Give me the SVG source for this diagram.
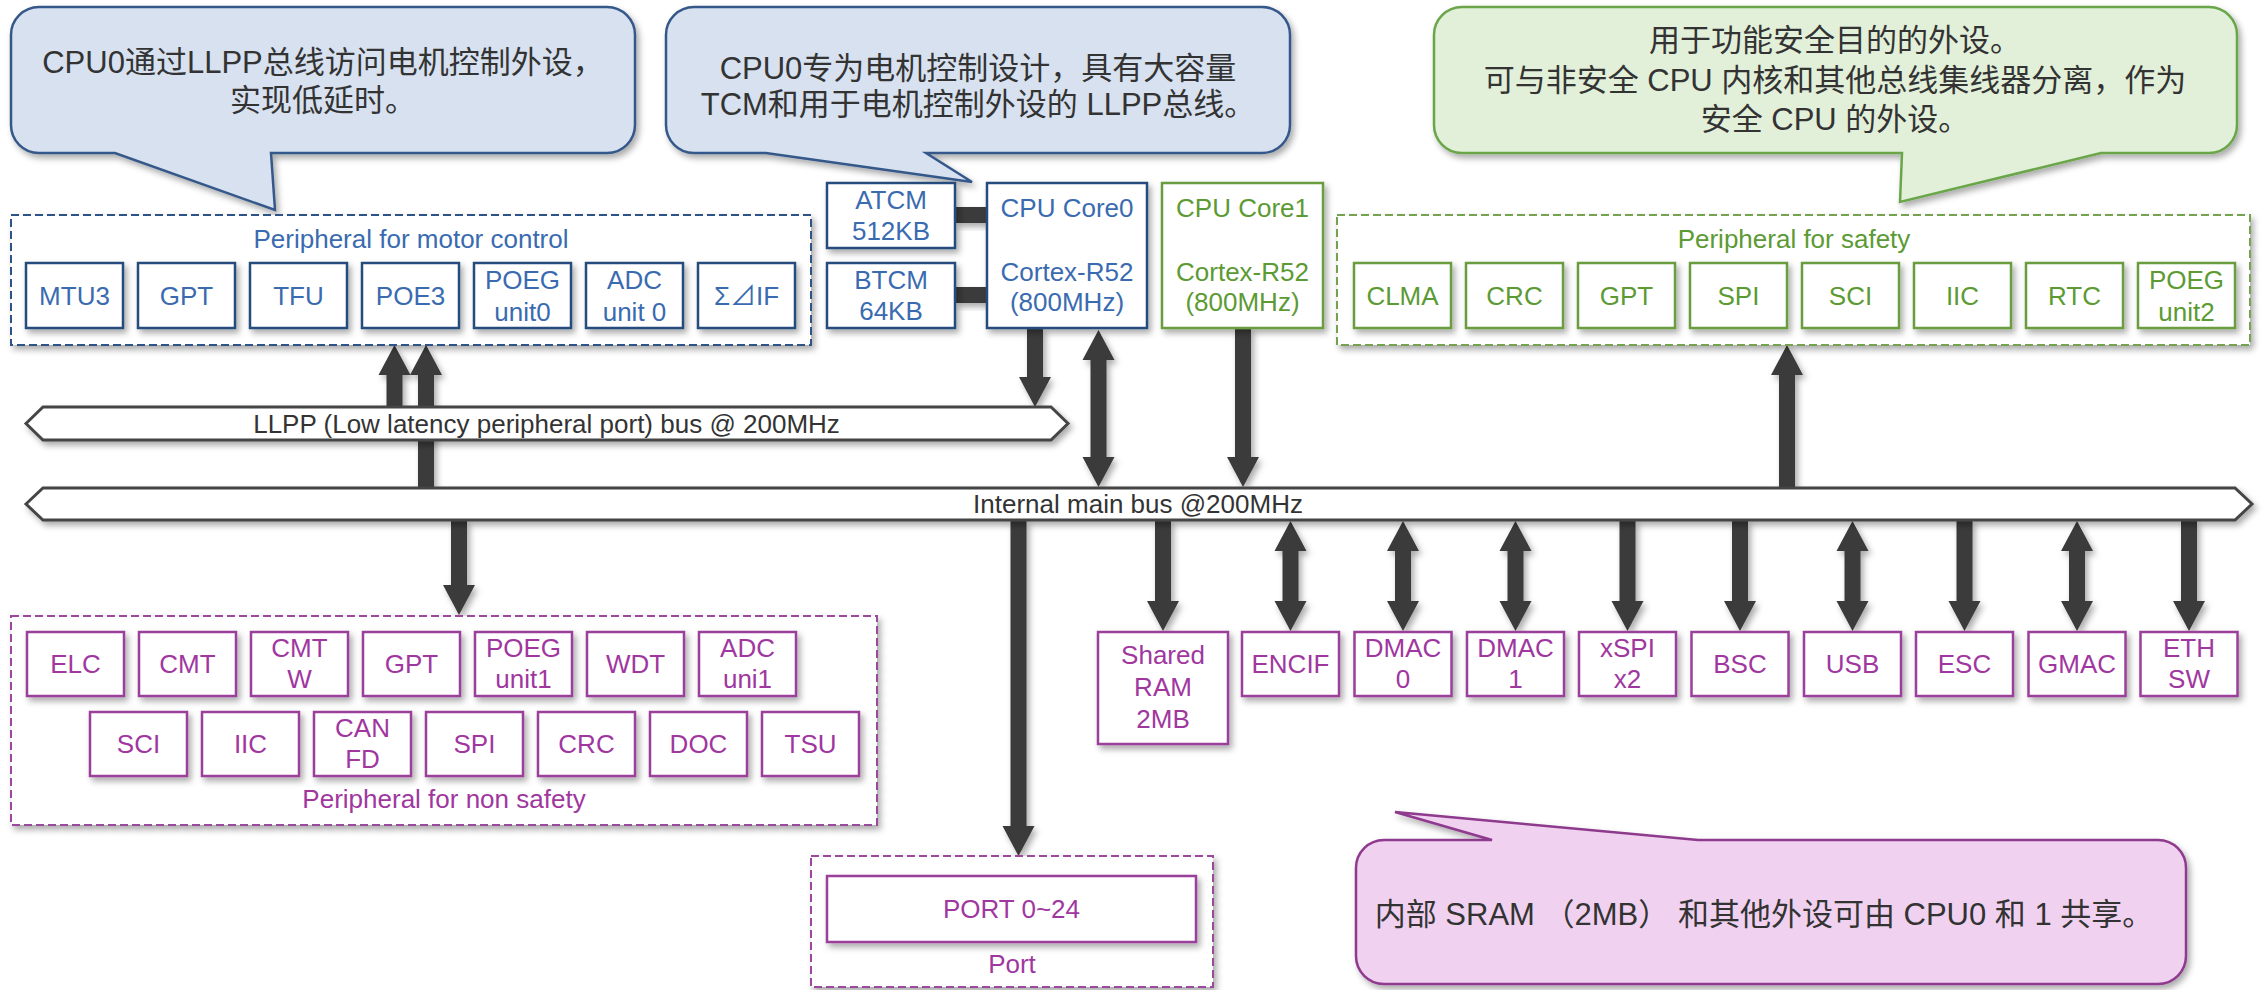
<svg xmlns="http://www.w3.org/2000/svg" width="2264" height="990" viewBox="0 0 2264 990">
  <defs>
    <filter id="shadow" x="-50%" y="-50%" width="200%" height="200%">
      <feDropShadow dx="3" dy="4" stdDeviation="3" flood-color="#000" flood-opacity="0.33"/>
    </filter>
    <!-- bus-to-peripheral arrows (main bus bottom 520 to box top 631) -->
    <path id="arrDown" d="M-8,0 H8 V81 H16 L0,111 L-16,81 H-8 Z"/>
    <path id="arrBoth" d="M0,0 L16,30 H8 V80 H16 L0,110 L-16,80 H-8 V30 H-16 Z"/>
    <style>
      text { font-family: "Liberation Sans", Arial, "Noto Sans CJK SC", sans-serif; text-anchor: middle; }
      .note { font-size: 31px; fill: #333333; }
      .lbl { font-size: 26px; }
      .tb { fill: #3a6bb0; }
      .tg { fill: #5c9a34; }
      .tp { fill: #a0379f; }
      .td { fill: #333333; }
      .sh { filter: url(#shadow); }
      .boxB { fill: #ffffff; stroke: #284b7d; stroke-width: 2.5; filter: url(#shadow); }
      .boxG { fill: #ffffff; stroke: #6a9c40; stroke-width: 2.5; filter: url(#shadow); }
      .boxP { fill: #ffffff; stroke: #9a3f9b; stroke-width: 2.5; filter: url(#shadow); }
      .grpB { fill: #ffffff; stroke: #2f5286; stroke-width: 2; stroke-dasharray: 8 4; filter: url(#shadow); }
      .grpG { fill: #ffffff; stroke: #74a250; stroke-width: 2; stroke-dasharray: 8 4; filter: url(#shadow); }
      .grpP { fill: #ffffff; stroke: #9a4a9c; stroke-width: 2; stroke-dasharray: 8 4; filter: url(#shadow); }
      .bus { fill: #ffffff; stroke: #454545; stroke-width: 3; filter: url(#shadow); }
      .arrow { fill: #3a3a3a; filter: url(#shadow); }
      .calB { fill: #d7e1ef; stroke: #36588a; stroke-width: 2.5; filter: url(#shadow); }
      .calG { fill: #e2efd9; stroke: #6aa64a; stroke-width: 2.5; filter: url(#shadow); }
      .calP { fill: #f0d2f0; stroke: #8e3a8e; stroke-width: 2.5; filter: url(#shadow); }
    </style>
  </defs>

  <rect width="2264" height="990" fill="#ffffff"/>

  <!-- connectors -->
  <g id="connectors">
    <!-- TCM links -->
    <rect class="arrow" x="955" y="207" width="32" height="16"/>
    <rect class="arrow" x="955" y="287" width="32" height="16"/>
    <!-- up into motor-control peripherals -->
    <path class="arrow" d="M394.5,345 L410.5,375 H402.5 V407 H386.5 V375 H378.5 Z"/>
    <path class="arrow" d="M426,345 L442,375 H434 V488 H418 V375 H410 Z"/>
    <!-- CPU Core0 to LLPP bus and main bus -->
    <path class="arrow" d="M1027,328 H1043 V377 H1051 L1035,407 L1019,377 H1027 Z"/>
    <path class="arrow" d="M1098.5,330 L1114.5,360 H1106.5 V457 H1114.5 L1098.5,487 L1082.5,457 H1090.5 V360 H1082.5 Z"/>
    <!-- CPU Core1 to main bus -->
    <path class="arrow" d="M1235,328 H1251 V457 H1259 L1243,487 L1227,457 H1235 Z"/>
    <!-- main bus up to safety peripherals -->
    <path class="arrow" d="M1787,345 L1803,375 H1795 V488 H1779 V375 H1771 Z"/>
    <!-- main bus down to non-safety peripherals -->
    <path class="arrow" d="M451,520 H467 V585 H475 L459,615 L443,585 H451 Z"/>
    <!-- main bus down to port -->
    <path class="arrow" d="M1010.5,520 H1026.5 V826 H1034.5 L1018.5,856 L1002.5,826 H1010.5 Z"/>
    <!-- main bus to peripherals on the right -->
    <use class="arrow" href="#arrDown" x="1163" y="520"/>
    <use class="arrow" href="#arrBoth" x="1290.5" y="521"/>
    <use class="arrow" href="#arrBoth" x="1403" y="521"/>
    <use class="arrow" href="#arrBoth" x="1515.5" y="521"/>
    <use class="arrow" href="#arrDown" x="1627.5" y="520"/>
    <use class="arrow" href="#arrDown" x="1740" y="520"/>
    <use class="arrow" href="#arrBoth" x="1852.5" y="521"/>
    <use class="arrow" href="#arrDown" x="1964.5" y="520"/>
    <use class="arrow" href="#arrBoth" x="2077" y="521"/>
    <use class="arrow" href="#arrDown" x="2189" y="520"/>
  </g>

  <!-- buses -->
  <g id="llpp-bus">
    <polygon class="bus" points="26,423.5 43,407 1051,407 1068,423.5 1051,440 43,440"/>
    <text class="lbl td" x="546.5" y="433">LLPP (Low latency peripheral port) bus @ 200MHz</text>
  </g>
  <g id="main-bus">
    <polygon class="bus" points="26,504 43,488 2235,488 2252,504 2235,520 43,520"/>
    <text class="lbl td" x="1138" y="513">Internal main bus @200MHz</text>
  </g>

  <!-- callouts -->
  <g id="note-llpp">
    <path class="calB" d="M39,7 H607 A28,28 0 0 1 635,35 V125 A28,28 0 0 1 607,153 H271 L275,210 L115,153 H39 A28,28 0 0 1 11,125 V35 A28,28 0 0 1 39,7 Z"/>
    <text class="note" x="323" y="73">CPU0通过LLPP总线访问电机控制外设，</text>
    <text class="note" x="323" y="111">实现低延时。</text>
  </g>
  <g id="note-cpu0">
    <path class="calB" d="M694,7 H1262 A28,28 0 0 1 1290,35 V125 A28,28 0 0 1 1262,153 H926 L972,182 L766,153 H694 A28,28 0 0 1 666,125 V35 A28,28 0 0 1 694,7 Z"/>
    <text class="note" x="978" y="79">CPU0专为电机控制设计，具有大容量</text>
    <text class="note" x="978" y="115">TCM和用于电机控制外设的 LLPP总线。</text>
  </g>
  <g id="note-safety">
    <path class="calG" d="M1462,7 H2209 A28,28 0 0 1 2237,35 V125 A28,28 0 0 1 2209,153 H2101 L1900,202 L1902,153 H1462 A28,28 0 0 1 1434,125 V35 A28,28 0 0 1 1462,7 Z"/>
    <text class="note" x="1835" y="51">用于功能安全目的的外设。</text>
    <text class="note" x="1835" y="91">可与非安全 CPU 内核和其他总线集线器分离，作为</text>
    <text class="note" x="1835" y="130">安全 CPU 的外设。</text>
  </g>
  <g id="note-shared">
    <path class="calP" d="M1384,840 H1492 L1395,812 L1698,840 H2158 A28,28 0 0 1 2186,868 V956 A28,28 0 0 1 2158,984 H1384 A28,28 0 0 1 1356,956 V868 A28,28 0 0 1 1384,840 Z"/>
    <text class="note" x="1764" y="925">内部 SRAM （2MB） 和其他外设可由 CPU0 和 1 共享。</text>
  </g>

  <!-- motor-control peripherals -->
  <g id="motor-peripherals">
    <rect class="grpB" x="11" y="215" width="800" height="130"/>
    <text class="lbl tb" x="411" y="248">Peripheral for motor control</text>
    <g id="mtu3"><rect class="boxB" x="26" y="263" width="97" height="65"/><text class="lbl tb" x="74.5" y="305">MTU3</text></g>
    <g id="gpt-m"><rect class="boxB" x="138" y="263" width="97" height="65"/><text class="lbl tb" x="186.5" y="305">GPT</text></g>
    <g id="tfu"><rect class="boxB" x="250" y="263" width="97" height="65"/><text class="lbl tb" x="298.5" y="305">TFU</text></g>
    <g id="poe3"><rect class="boxB" x="362" y="263" width="97" height="65"/><text class="lbl tb" x="410.5" y="305">POE3</text></g>
    <g id="poeg0"><rect class="boxB" x="474" y="263" width="97" height="65"/><text class="lbl tb" x="522.5" y="289">POEG</text><text class="lbl tb" x="522.5" y="321">unit0</text></g>
    <g id="adc0"><rect class="boxB" x="586" y="263" width="97" height="65"/><text class="lbl tb" x="634.5" y="289">ADC</text><text class="lbl tb" x="634.5" y="321">unit 0</text></g>
    <g id="sdif"><rect class="boxB" x="698" y="263" width="97" height="65"/><text class="lbl tb" x="746.5" y="305">Σ⊿IF</text></g>
  </g>

  <!-- TCM and CPU cores -->
  <g id="atcm">
    <rect class="boxB" x="827" y="183" width="128" height="65"/>
    <text class="lbl tb" x="891" y="209">ATCM</text>
    <text class="lbl tb" x="891" y="240">512KB</text>
  </g>
  <g id="btcm">
    <rect class="boxB" x="827" y="263" width="128" height="65"/>
    <text class="lbl tb" x="891" y="289">BTCM</text>
    <text class="lbl tb" x="891" y="320">64KB</text>
  </g>
  <g id="cpu-core0">
    <rect class="boxB" x="987" y="183" width="160" height="145"/>
    <text class="lbl tb" x="1067" y="217">CPU Core0</text>
    <text class="lbl tb" x="1067" y="281">Cortex-R52</text>
    <text class="lbl tb" x="1067" y="311">(800MHz)</text>
  </g>
  <g id="cpu-core1">
    <rect class="boxG" x="1162" y="183" width="161" height="145"/>
    <text class="lbl tg" x="1242.5" y="217">CPU Core1</text>
    <text class="lbl tg" x="1242.5" y="281">Cortex-R52</text>
    <text class="lbl tg" x="1242.5" y="311">(800MHz)</text>
  </g>

  <!-- safety peripherals -->
  <g id="safety-peripherals">
    <rect class="grpG" x="1337" y="215" width="913" height="130"/>
    <text class="lbl tg" x="1794" y="248">Peripheral for safety</text>
    <g id="clma"><rect class="boxG" x="1354" y="263" width="97" height="65"/><text class="lbl tg" x="1402.5" y="305">CLMA</text></g>
    <g id="crc-s"><rect class="boxG" x="1466" y="263" width="97" height="65"/><text class="lbl tg" x="1514.5" y="305">CRC</text></g>
    <g id="gpt-s"><rect class="boxG" x="1578" y="263" width="97" height="65"/><text class="lbl tg" x="1626.5" y="305">GPT</text></g>
    <g id="spi-s"><rect class="boxG" x="1690" y="263" width="97" height="65"/><text class="lbl tg" x="1738.5" y="305">SPI</text></g>
    <g id="sci-s"><rect class="boxG" x="1802" y="263" width="97" height="65"/><text class="lbl tg" x="1850.5" y="305">SCI</text></g>
    <g id="iic-s"><rect class="boxG" x="1914" y="263" width="97" height="65"/><text class="lbl tg" x="1962.5" y="305">IIC</text></g>
    <g id="rtc"><rect class="boxG" x="2026" y="263" width="97" height="65"/><text class="lbl tg" x="2074.5" y="305">RTC</text></g>
    <g id="poeg2"><rect class="boxG" x="2138" y="263" width="97" height="65"/><text class="lbl tg" x="2186.5" y="289">POEG</text><text class="lbl tg" x="2186.5" y="321">unit2</text></g>
  </g>

  <!-- non-safety peripherals -->
  <g id="nonsafety-peripherals">
    <rect class="grpP" x="11" y="616" width="866" height="209"/>
    <g id="elc"><rect class="boxP" x="27" y="632" width="97" height="64"/><text class="lbl tp" x="75.5" y="673">ELC</text></g>
    <g id="cmt"><rect class="boxP" x="139" y="632" width="97" height="64"/><text class="lbl tp" x="187.5" y="673">CMT</text></g>
    <g id="cmtw"><rect class="boxP" x="251" y="632" width="97" height="64"/><text class="lbl tp" x="299.5" y="657">CMT</text><text class="lbl tp" x="299.5" y="688">W</text></g>
    <g id="gpt-n"><rect class="boxP" x="363" y="632" width="97" height="64"/><text class="lbl tp" x="411.5" y="673">GPT</text></g>
    <g id="poeg1"><rect class="boxP" x="475" y="632" width="97" height="64"/><text class="lbl tp" x="523.5" y="657">POEG</text><text class="lbl tp" x="523.5" y="688">unit1</text></g>
    <g id="wdt"><rect class="boxP" x="587" y="632" width="97" height="64"/><text class="lbl tp" x="635.5" y="673">WDT</text></g>
    <g id="adc1"><rect class="boxP" x="699" y="632" width="97" height="64"/><text class="lbl tp" x="747.5" y="657">ADC</text><text class="lbl tp" x="747.5" y="688">uni1</text></g>
    <g id="sci-n"><rect class="boxP" x="90" y="712" width="97" height="64"/><text class="lbl tp" x="138.5" y="753">SCI</text></g>
    <g id="iic-n"><rect class="boxP" x="202" y="712" width="97" height="64"/><text class="lbl tp" x="250.5" y="753">IIC</text></g>
    <g id="canfd"><rect class="boxP" x="314" y="712" width="97" height="64"/><text class="lbl tp" x="362.5" y="737">CAN</text><text class="lbl tp" x="362.5" y="768">FD</text></g>
    <g id="spi-n"><rect class="boxP" x="426" y="712" width="97" height="64"/><text class="lbl tp" x="474.5" y="753">SPI</text></g>
    <g id="crc-n"><rect class="boxP" x="538" y="712" width="97" height="64"/><text class="lbl tp" x="586.5" y="753">CRC</text></g>
    <g id="doc"><rect class="boxP" x="650" y="712" width="97" height="64"/><text class="lbl tp" x="698.5" y="753">DOC</text></g>
    <g id="tsu"><rect class="boxP" x="762" y="712" width="97" height="64"/><text class="lbl tp" x="810.5" y="753">TSU</text></g>
    <text class="lbl tp" x="444" y="808">Peripheral for non safety</text>
  </g>

  <!-- port -->
  <g id="port">
    <rect class="grpP" x="811" y="856" width="402" height="131"/>
    <rect class="boxP" x="827" y="876" width="369" height="66"/>
    <text class="lbl tp" x="1011.5" y="918">PORT 0~24</text>
    <text class="lbl tp" x="1012" y="973">Port</text>
  </g>

  <!-- main-bus peripherals -->
  <g id="shared-ram"><rect class="boxP" x="1098" y="632" width="130" height="112"/><text class="lbl tp" x="1163" y="664">Shared</text><text class="lbl tp" x="1163" y="696">RAM</text><text class="lbl tp" x="1163" y="728">2MB</text></g>
  <g id="encif"><rect class="boxP" x="1242" y="632" width="97" height="64"/><text class="lbl tp" x="1290.5" y="673">ENCIF</text></g>
  <g id="dmac0"><rect class="boxP" x="1354.5" y="632" width="97" height="64"/><text class="lbl tp" x="1403" y="657">DMAC</text><text class="lbl tp" x="1403" y="688">0</text></g>
  <g id="dmac1"><rect class="boxP" x="1467" y="632" width="97" height="64"/><text class="lbl tp" x="1515.5" y="657">DMAC</text><text class="lbl tp" x="1515.5" y="688">1</text></g>
  <g id="xspi"><rect class="boxP" x="1579" y="632" width="97" height="64"/><text class="lbl tp" x="1627.5" y="657">xSPI</text><text class="lbl tp" x="1627.5" y="688">x2</text></g>
  <g id="bsc"><rect class="boxP" x="1691.5" y="632" width="97" height="64"/><text class="lbl tp" x="1740" y="673">BSC</text></g>
  <g id="usb"><rect class="boxP" x="1804" y="632" width="97" height="64"/><text class="lbl tp" x="1852.5" y="673">USB</text></g>
  <g id="esc"><rect class="boxP" x="1916" y="632" width="97" height="64"/><text class="lbl tp" x="1964.5" y="673">ESC</text></g>
  <g id="gmac"><rect class="boxP" x="2028.5" y="632" width="97" height="64"/><text class="lbl tp" x="2077" y="673">GMAC</text></g>
  <g id="ethsw"><rect class="boxP" x="2140.5" y="632" width="97" height="64"/><text class="lbl tp" x="2189" y="657">ETH</text><text class="lbl tp" x="2189" y="688">SW</text></g>
</svg>
